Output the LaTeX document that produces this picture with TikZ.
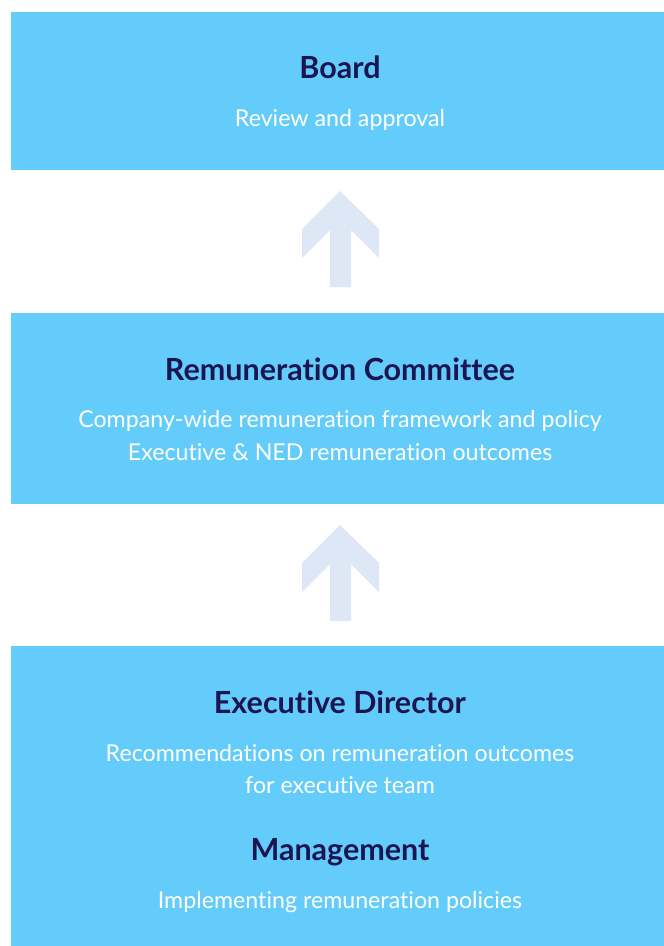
\documentclass[tikz,border=0pt]{standalone}
\usepackage{fontspec}
\setmainfont{Lato}[Ligatures=NoCommon]
\definecolor{boxblue}{RGB}{100,204,250}
\definecolor{navy}{RGB}{27,21,81}
\definecolor{arrowgrey}{RGB}{222,231,246}
\begin{document}
\begin{tikzpicture}[x=1pt,y=-1pt,
  panel/.style={fill=boxblue,draw=none},
  title/.style={anchor=base,text=navy,font=\fontsize{30.5}{34}\selectfont\bfseries,inner sep=0pt},
  body/.style={anchor=base,text=white,font=\fontsize{23.2}{27}\selectfont,inner sep=0pt},
  uparrow/.style={fill=arrowgrey,draw=none}]
\useasboundingbox (0,0) rectangle (664,946);
\fill[white] (0,0) rectangle (664,946);
% panels
\path[panel] (11,12) rectangle (664,170);
\path[panel] (11,313) rectangle (664,504);
\path[panel] (11,646) rectangle (664,946);
% board
\node[title] (board) at (340,78) {Board};
\node[body] (boardtxt) at (340,126) {Review and approval};
% remuneration committee
\node[title] (remco) at (340,380) {Remuneration Committee};
\node[body] (remco1) at (340,427) {Company-wide remuneration framework and policy};
\node[body] (remco2) at (340,460) {Executive \& NED remuneration outcomes};
% executive director
\node[title] (exec) at (340,713) {Executive Director};
\node[body] (exec1) at (340,761) {Recommendations on remuneration outcomes};
\node[body] (exec2) at (340,793) {for executive team};
% management
\node[title] (mgmt) at (340,860) {Management};
\node[body] (mgmt1) at (340,908) {Implementing remuneration policies};
% arrows
\coordinate (a1) at (340,191);
\coordinate (a2) at (340,525);
\foreach \c in {a1,a2}{
  \path[uparrow] (\c) -- ++(-38,38) -- ++(0,29) -- ++(28,-28) -- ++(0,57)
    -- ++(21,0) -- ++(0,-57) -- ++(28,28) -- ++(0,-29) -- cycle;
}
\end{tikzpicture}
\end{document}
